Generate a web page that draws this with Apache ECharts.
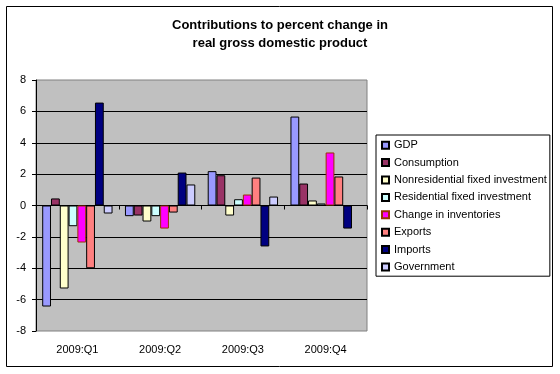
<!DOCTYPE html>
<html><head><meta charset="utf-8">
<script src="https://cdn.jsdelivr.net/npm/echarts@6/dist/echarts.min.js"></script>
<style>html,body{margin:0;padding:0;background:#fff}#c{width:560px;height:374px}</style>
</head><body><div id="c"></div>
<script>
const categories = ['2009:Q1', '2009:Q2', '2009:Q3', '2009:Q4'];
const gdp            = [-6.44, -0.68,  2.19,  5.67];
const consumption    = [ 0.45, -0.64,  1.93,  1.40];
const nonresidential = [-5.29, -1.02, -0.64,  0.32];
const residential    = [-1.32, -0.68,  0.40,  0.13];
const inventories    = [-2.36, -1.47,  0.70,  3.38];
const exportsVals    = [-4.00, -0.45,  1.78,  1.85];
const imports        = [ 6.56,  2.10, -2.61, -1.47];
const government     = [-0.51,  1.34,  0.57,  0.00];
const seriesNames = ['GDP', 'Consumption', 'Nonresidential fixed investment', 'Residential fixed investment',
  'Change in inventories', 'Exports', 'Imports', 'Government'];
const yMin = -8, yMax = 8, yStep = 2;

const seriesData = [gdp, consumption, nonresidential, residential, inventories, exportsVals, imports, government];
const fills = ['#9999FF', '#993366', '#FFFFCC', '#CCFFFF', '#FF00FF', '#FF8080', '#000080', '#CCCCFF'];
const borders = ['#000', '#000', '#000', '#000', '#993300', '#000', '#000', '#000'];
const FONT = '"Liberation Sans", Arial, sans-serif';

const chart = echarts.init(document.getElementById('c'), null, {renderer: 'canvas'});
chart.setOption({
  animation: false,
  backgroundColor: '#fff',
  textStyle: {fontFamily: FONT},
  title: {
    text: 'Contributions to percent change in\nreal gross domestic product',
    left: 280, top: 16, textAlign: 'center', padding: 0,
    textStyle: {fontFamily: FONT, fontSize: 13, fontWeight: 'bold', color: '#000', lineHeight: 18, align: 'center'}
  },
  graphic: [{
    type: 'rect', z: -10,
    shape: {x: 6.5, y: 6.5, width: 546, height: 360},
    style: {fill: null, stroke: '#000', lineWidth: 1}
  }],
  grid: {
    left: 36, top: 80, right: 193, bottom: 43,
    show: true, backgroundColor: '#C0C0C0', borderColor: '#808080', borderWidth: 1
  },
  legend: {
    orient: 'vertical', left: 376, top: 135,
    data: seriesNames,
    icon: 'rect', itemWidth: 7, itemHeight: 7, itemGap: 5,
    padding: [4, 3, 3, 5],
    borderColor: '#000', borderWidth: 1,
    textStyle: {fontFamily: FONT, fontSize: 11, color: '#000', lineHeight: 12.4}
  },
  xAxis: [{
    type: 'category', data: categories, position: 'bottom',
    axisLine: {onZero: true, lineStyle: {color: '#000', width: 1}},
    axisTick: {show: true, length: 4, lineStyle: {color: '#000'}},
    axisLabel: {show: false},
    splitLine: {show: false}
  }, {
    type: 'category', data: categories, position: 'bottom',
    axisLine: {show: false, onZero: false},
    axisTick: {show: false},
    axisLabel: {margin: 13, fontFamily: FONT, fontSize: 11, color: '#000'},
    splitLine: {show: false}
  }],
  yAxis: {
    type: 'value', min: yMin, max: yMax, interval: yStep,
    axisLine: {show: true, lineStyle: {color: '#000'}},
    axisTick: {show: true, length: 4, lineStyle: {color: '#000'}},
    axisLabel: {margin: 10, fontFamily: FONT, fontSize: 11, color: '#000'},
    splitLine: {show: true, showMinLine: false, showMaxLine: false, lineStyle: {color: '#000', width: 1}}
  },
  series: seriesNames.map((name, i) => ({
    name: name, type: 'bar', xAxisIndex: 0,
    data: seriesData[i],
    barGap: '0%', barCategoryGap: '15%',
    itemStyle: {color: fills[i], borderColor: borders[i], borderWidth: 1}
  }))
});
</script>
</body></html>
